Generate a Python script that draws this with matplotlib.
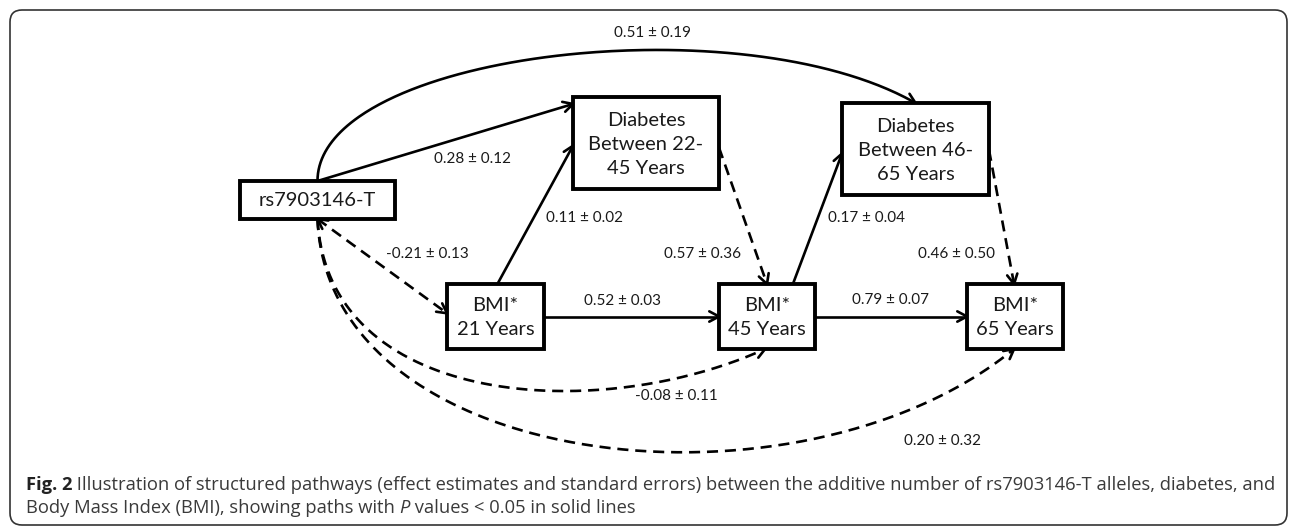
import numpy as np
import matplotlib
matplotlib.use("Agg")
import matplotlib.pyplot as plt
from matplotlib.patches import FancyBboxPatch, Rectangle

# node labels
node_names = ["rs", "d1", "d2", "b21", "b45", "b65"]
node_labels = ["rs7903146-T",
               "Diabetes\nBetween 22-\n45 Years",
               "Diabetes\nBetween 46-\n65 Years",
               "BMI*\n21 Years",
               "BMI*\n45 Years",
               "BMI*\n65 Years"]

# path estimates (effect ± SE) and whether P < 0.05
edge_src = ["rs", "rs", "b21", "d1", "b45", "d2", "rs", "b21", "b45", "rs", "rs"]
edge_dst = ["d2", "d1", "d1", "b45", "d2", "b65", "b21", "b45", "b65", "b45", "b65"]
edge_est = ["0.51 ± 0.19", "0.28 ± 0.12", "0.11 ± 0.02", "0.57 ± 0.36", "0.17 ± 0.04",
            "0.46 ± 0.50", "-0.21 ± 0.13", "0.52 ± 0.03", "0.79 ± 0.07",
            "-0.08 ± 0.11", "0.20 ± 0.32"]
edge_sig = [True, True, True, False, True, False, False, True, True, False, False]

caption_bold = "Fig. 2"
caption_line1 = (" Illustration of structured pathways (effect estimates and standard errors) "
                 "between the additive number of rs7903146-T alleles, diabetes, and")
caption_line2 = ["Body Mass Index (BMI), showing paths with ", "P", " values < 0.05 in solid lines"]

# ---- layout (pixel space) ----
boxes = {"rs": (240, 181, 395, 219), "d1": (573, 97, 719, 189), "d2": (842, 103, 989, 195),
         "b21": (447, 284, 544, 349), "b45": (719, 284, 815, 349), "b65": (967, 284, 1063, 349)}

# (side, fraction) of start and end anchors, bezier offsets, label position
edge_layout = [
    (("top", 0.5), ("top", 0.5), ((0, -128), (-175, -100)), (652, 33)),
    (("top", 0.5), ("left", 0.076), None, (472, 159)),
    (("top", 0.52), ("left", 0.53), None, (584, 218)),
    (("right", 0.55), ("top", 0.5), None, (702, 254)),
    (("top", 0.77), ("left", 0.55), None, (866, 218)),
    (("right", 0.51), ("top", 0.49), None, (957, 254)),
    (("bottom", 0.5), ("left", 0.45), None, (427, 254)),
    (("right", 0.5), ("left", 0.5), None, (622, 301)),
    (("right", 0.5), ("left", 0.5), None, (890, 300)),
    (("bottom", 0.5), ("bottom", 0.48), ((10, 190), (-165, 75)), (676, 396)),
    (("bottom", 0.5), ("bottom", 0.49), ((10, 255), (-214, 175)), (943, 441)),
]
both_heads = [False, False, False, False, False, False, True, False, False, False, False]

W, H = 1290, 527
fig = plt.figure(figsize=(W / 100, H / 100), dpi=100)
ax = fig.add_axes([0, 0, 1, 1])
ax.set_xlim(0, W)
ax.set_ylim(H, 0)
ax.axis("off")

box_font = "Lato"
lab_font = "Lato"
cap_font = "Open Sans"


def anchor(name, side, f):
    x0, y0, x1, y1 = boxes[name]
    if side == "top":
        return np.array([x0 + f * (x1 - x0), y0])
    if side == "bottom":
        return np.array([x0 + f * (x1 - x0), y1])
    if side == "left":
        return np.array([x0, y0 + f * (y1 - y0)])
    return np.array([x1, y0 + f * (y1 - y0)])


def head(tip, d, L=11, ang=28):
    d = d / np.linalg.norm(d)
    for s in (1, -1):
        a = np.radians(ang * s)
        r = np.array([d[0] * np.cos(a) - d[1] * np.sin(a), d[0] * np.sin(a) + d[1] * np.cos(a)])
        p = tip - L * r
        ax.plot([tip[0], p[0]], [tip[1], p[1]], color="black", lw=1.9,
                solid_capstyle="round", zorder=4)


# outer frame
ax.add_patch(FancyBboxPatch((10, 10), 1277, 515, boxstyle="round,pad=0,rounding_size=12",
                            fill=False, ec="#333333", lw=1.2, zorder=1))

for i in range(len(edge_src)):
    (s_side, s_f), (e_side, e_f), ctrl, lpos = edge_layout[i]
    p0 = anchor(edge_src[i], s_side, s_f)
    p3 = anchor(edge_dst[i], e_side, e_f)
    if ctrl is None:
        pts = np.array([p0, p3])
    else:
        p1 = p0 + np.array(ctrl[0])
        p2 = p3 + np.array(ctrl[1])
        t = np.linspace(0, 1, 200)[:, None]
        pts = ((1 - t) ** 3) * p0 + 3 * ((1 - t) ** 2) * t * p1 + 3 * (1 - t) * t ** 2 * p2 + t ** 3 * p3
    ls = "-" if edge_sig[i] else (0, (4.2, 2.6))
    ax.plot(pts[:, 0], pts[:, 1], color="black", lw=1.9, linestyle=ls,
            dash_capstyle="butt", zorder=3)
    head(pts[-1], pts[-1] - pts[-3 if len(pts) > 2 else 0])
    if both_heads[i]:
        head(pts[0], pts[0] - pts[1])
    ax.text(lpos[0], lpos[1], edge_est[i], ha="center", va="center", fontsize=11,
            family=lab_font, color="#1a1a1a", zorder=5)

for name, label in zip(node_names, node_labels):
    x0, y0, x1, y1 = boxes[name]
    ax.add_patch(Rectangle((x0, y0), x1 - x0, y1 - y0, fill=True, fc="white", ec="black",
                           lw=2.8, zorder=6, joinstyle="miter"))
    ax.text((x0 + x1) / 2, (y0 + y1) / 2 + 1, label, ha="center", va="center", fontsize=14.5,
            family=box_font, color="#1a1a1a", linespacing=1.5, zorder=7)

# caption, drawn run by run
renderer = fig.canvas.get_renderer()


def run(x, y, s, **kw):
    t = ax.text(x, y, s, ha="left", va="center", fontsize=13.2, family=cap_font, **kw)
    bb = t.get_window_extent(renderer)
    return x + bb.width

x = run(26, 485, caption_bold, weight="bold", color="#222222")
run(x, 485, caption_line1, color="#3a3a3a")
x = 26
for k, s in enumerate(caption_line2):
    x = run(x, 508, s, color="#3a3a3a", style="italic" if k == 1 else "normal")

fig.savefig("out.png", dpi=100)
